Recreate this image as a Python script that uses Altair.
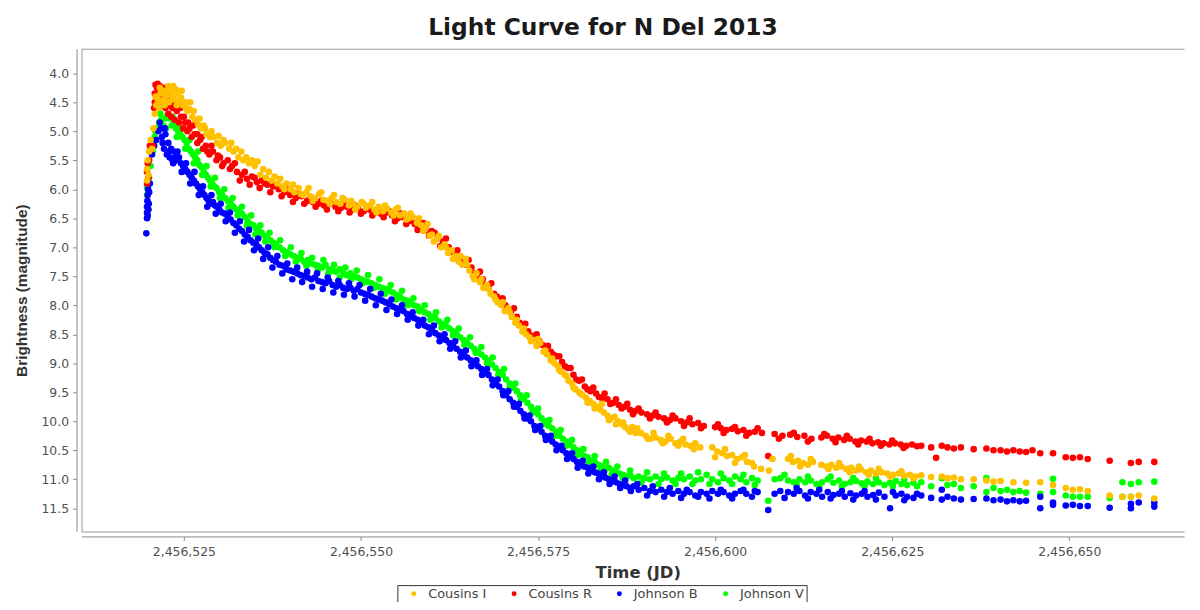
import altair as alt
import pandas as pd

JD0 = 2456500  # days below are JD - 2456500

SERIES = ["Cousins I", "Cousins R", "Johnson B", "Johnson V"]
COLORS = ["#FFC000", "#FF0000", "#0000FF", "#00FF00"]
X_TICKS = [2456525, 2456550, 2456575, 2456600, 2456625, 2456650]
Y_TICKS = [4.0, 4.5, 5.0, 5.5, 6.0, 6.5, 7.0, 7.5, 8.0, 8.5, 9.0, 9.5, 10.0, 10.5, 11.0, 11.5]

COUSINS_I = [
    (19.8, 5.85), (19.8, 5.65), (19.9, 5.5), (20.0, 5.75), (20.1, 5.35), (20.3, 5.15), (20.5, 5.3),
    (20.7, 4.95), (20.9, 4.7), (21.1, 4.55), (21.3, 4.45), (21.5, 4.6), (21.7, 4.35), (21.9, 4.5),
    (22.1, 4.3), (22.3, 4.55), (22.5, 4.4), (22.7, 4.3), (22.9, 4.5), (23.1, 4.25), (23.3, 4.35),
    (23.5, 4.22), (23.7, 4.45), (23.9, 4.28), (24.1, 4.35), (24.3, 4.5), (24.6, 4.42), (24.9, 4.55),
    (25.2, 4.5), (25.5, 4.65), (25.8, 4.62), (26.2, 4.75), (26.6, 4.8), (27.0, 4.88), (27.4, 4.95),
    (27.8, 4.9), (28.2, 5.05), (28.7, 5.1), (29.2, 5.1), (29.7, 5.2), (30.2, 5.25), (30.8, 5.2),
    (31.4, 5.3), (32.0, 5.35), (32.7, 5.45), (33.4, 5.5), (34.2, 5.55), (35.0, 5.6), (35.8, 5.75),
    (36.6, 5.8), (37.4, 5.85), (38.2, 5.9), (38.9, 5.95), (39.5, 5.9), (40.1, 6.0), (40.6, 6.05),
    (41.2, 5.98), (41.8, 6.1), (42.3, 6.05), (42.9, 6.12), (43.5, 6.15), (44.1, 6.08), (44.7, 6.18),
    (45.3, 6.2), (45.9, 6.15), (46.5, 6.22), (47.1, 6.25), (47.7, 6.18), (48.3, 6.28), (48.9, 6.25),
    (49.5, 6.3), (50.1, 6.22), (50.7, 6.32), (51.3, 6.28), (51.9, 6.35), (52.5, 6.3), (53.1, 6.38),
    (53.7, 6.33), (54.3, 6.4), (54.9, 6.35), (55.5, 6.45), (56.1, 6.42), (56.7, 6.5), (57.3, 6.48),
    (57.9, 6.58), (58.5, 6.62), (59.1, 6.68), (59.7, 6.8), (60.3, 6.9), (60.8, 6.85), (61.3, 7.0),
    (61.8, 6.95), (62.3, 7.1), (62.8, 7.05), (63.3, 7.15), (63.8, 7.25), (64.3, 7.3), (64.8, 7.2),
    (65.3, 7.4), (65.8, 7.5), (66.3, 7.45), (66.8, 7.6), (67.3, 7.7), (67.8, 7.65), (68.3, 7.8),
    (68.8, 7.85), (69.3, 7.95), (69.8, 8.0), (70.3, 8.1), (70.8, 8.05), (71.3, 8.2), (71.8, 8.3),
    (72.3, 8.35), (72.8, 8.45), (73.3, 8.5), (73.8, 8.55), (74.3, 8.6), (74.8, 8.7), (75.3, 8.65),
    (75.8, 8.8), (76.3, 8.85), (76.8, 8.95), (77.3, 9.0), (77.8, 9.05), (78.3, 9.15), (78.8, 9.2),
    (79.3, 9.3), (79.8, 9.35), (80.3, 9.45), (80.8, 9.5), (81.3, 9.55), (81.8, 9.6), (82.3, 9.65),
    (82.8, 9.7), (83.3, 9.75), (83.8, 9.8), (84.3, 9.85), (84.8, 9.9), (85.3, 9.95), (85.8, 9.92),
    (86.3, 10.0), (86.8, 10.05), (87.3, 10.1), (87.8, 10.15), (88.3, 10.1), (88.8, 10.2), (89.5, 10.2),
    (90.2, 10.25), (90.9, 10.3), (91.6, 10.28), (92.3, 10.32), (93.0, 10.35), (93.7, 10.3), (94.4, 10.38),
    (95.1, 10.35), (95.8, 10.4), (96.5, 10.42), (97.2, 10.38), (97.9, 10.45), (99.6, 10.45), (100.3, 10.52),
    (101.0, 10.55), (101.7, 10.6), (102.4, 10.58), (103.1, 10.65), (103.8, 10.62), (104.5, 10.7),
    (105.2, 10.72), (106.5, 10.82), (107.6, 10.85), (108.1, 10.65), (110.3, 10.65), (111.0, 10.7),
    (111.7, 10.68), (112.4, 10.72), (113.1, 10.75), (113.8, 10.7), (115.0, 10.75), (115.7, 10.78),
    (116.4, 10.75), (117.1, 10.8), (117.8, 10.78), (118.5, 10.82), (119.2, 10.8), (119.9, 10.85),
    (120.6, 10.83), (121.3, 10.88), (122.0, 10.85), (122.7, 10.9), (123.5, 10.88), (124.3, 10.9),
    (125.1, 10.92), (125.9, 10.9), (126.7, 10.94), (127.5, 10.92), (128.3, 10.95), (129.1, 10.93),
    (130.5, 10.96), (132.0, 10.95), (132.8, 10.98), (133.7, 10.97), (134.7, 11.0), (136.5, 11.0),
    (138.3, 11.02), (139.3, 11.04), (140.3, 11.03), (142.1, 11.05), (143.9, 11.06), (145.9, 11.05),
    (147.7, 11.1), (149.5, 11.15), (150.5, 11.18), (151.5, 11.17), (152.6, 11.2), (155.7, 11.28),
    (157.5, 11.3), (158.7, 11.3), (159.8, 11.28), (162.0, 11.33),
]
COUSINS_I_SCATTER = [
    (21.0, 4.4), (21.6, 4.25), (22.2, 4.45), (22.8, 4.22), (23.4, 4.45), (24.0, 4.55), (24.7, 4.3),
    (25.3, 4.6), (25.9, 4.5), (26.4, 4.65), (27.2, 4.78), (28.0, 4.95), (28.9, 5.0), (29.9, 5.08),
    (30.6, 5.15), (31.7, 5.2), (32.4, 5.3), (33.1, 5.35), (33.8, 5.45), (34.6, 5.5), (35.4, 5.52),
    (36.2, 5.65), (37.0, 5.7), (37.8, 5.78), (38.6, 5.82), (39.2, 6.0), (40.4, 5.92), (41.5, 6.08),
    (42.6, 5.98), (43.2, 6.2), (44.4, 6.05), (45.6, 6.25), (46.2, 6.1), (47.4, 6.15), (48.6, 6.2),
    (49.2, 6.35), (50.4, 6.25), (51.6, 6.22), (52.2, 6.4), (53.4, 6.28), (54.6, 6.45), (55.2, 6.32),
    (56.4, 6.52), (57.0, 6.42), (58.2, 6.5), (58.8, 6.72), (59.4, 6.6), (60.0, 6.78), (61.0, 6.8),
    (62.0, 7.0), (63.0, 7.2), (64.0, 7.15), (65.0, 7.3), (66.0, 7.55), (67.0, 7.55), (68.0, 7.72),
    (69.0, 7.9), (70.0, 7.95), (71.0, 8.12), (72.0, 8.25), (73.0, 8.4), (74.0, 8.62), (75.0, 8.58),
    (76.0, 8.78), (77.0, 8.92), (78.0, 9.12), (79.0, 9.22), (80.0, 9.42), (81.0, 9.52), (82.0, 9.68),
    (83.0, 9.78), (84.0, 9.7), (85.0, 9.98), (86.0, 10.05), (87.0, 10.02), (88.0, 10.18), (89.0, 10.12),
    (90.5, 10.3), (91.3, 10.2), (92.6, 10.38), (93.4, 10.25), (94.8, 10.42), (95.5, 10.3), (97.0, 10.48),
    (100.0, 10.62), (101.4, 10.48), (102.8, 10.72), (104.2, 10.58), (105.5, 10.78), (110.7, 10.6),
    (112.0, 10.78), (113.5, 10.65), (116.0, 10.82), (117.5, 10.72), (119.0, 10.88), (120.3, 10.78),
    (121.7, 10.92), (123.1, 10.82), (124.7, 10.95), (126.3, 10.86), (128.0, 10.98),
]

COUSINS_R = [
    (19.8, 5.9), (19.8, 5.7), (19.9, 5.55), (20.0, 5.8), (20.1, 5.5), (20.2, 5.25), (20.4, 5.3),
    (20.6, 5.25), (20.8, 4.6), (20.9, 4.35), (21.0, 4.2), (21.1, 4.5), (21.2, 4.25), (21.3, 4.18),
    (21.4, 4.4), (21.6, 4.22), (21.8, 4.3), (22.0, 4.5), (22.2, 4.25), (22.4, 4.6), (22.6, 4.45),
    (22.8, 4.7), (23.0, 4.55), (23.2, 4.75), (23.4, 4.6), (23.7, 4.8), (24.0, 4.65), (24.3, 4.85),
    (24.6, 4.75), (24.9, 4.95), (25.2, 4.85), (25.5, 5.0), (25.8, 4.95), (26.1, 5.1), (26.5, 5.05),
    (26.9, 5.2), (27.3, 5.15), (27.7, 5.3), (28.1, 5.25), (28.6, 5.4), (29.1, 5.35), (29.6, 5.5),
    (30.1, 5.45), (30.6, 5.55), (31.2, 5.5), (31.8, 5.6), (32.5, 5.7), (33.2, 5.75), (33.9, 5.82),
    (34.6, 5.78), (35.3, 5.88), (36.0, 5.85), (36.8, 5.92), (37.6, 5.95), (38.4, 6.0), (39.2, 6.05),
    (40.0, 6.1), (40.8, 6.15), (41.6, 6.12), (42.4, 6.2), (43.2, 6.22), (44.0, 6.25), (44.8, 6.28),
    (45.6, 6.25), (46.4, 6.3), (47.2, 6.32), (48.0, 6.3), (48.8, 6.35), (49.6, 6.33), (50.4, 6.38),
    (51.2, 6.35), (52.0, 6.4), (52.8, 6.42), (53.6, 6.4), (54.4, 6.45), (55.2, 6.5), (56.0, 6.48),
    (56.8, 6.55), (57.6, 6.6), (58.4, 6.62), (59.2, 6.7), (60.0, 6.72), (60.8, 6.85), (61.6, 6.9),
    (62.4, 7.0), (63.2, 7.1), (64.0, 7.15), (64.8, 7.3), (65.6, 7.35), (66.4, 7.5), (67.2, 7.55),
    (68.0, 7.7), (68.8, 7.8), (69.6, 7.9), (70.4, 8.0), (71.2, 8.1), (72.0, 8.2), (72.8, 8.35),
    (73.6, 8.45), (74.4, 8.55), (75.2, 8.62), (76.0, 8.72), (76.8, 8.8), (77.6, 8.88), (78.4, 8.98),
    (79.2, 9.08), (80.0, 9.2), (80.8, 9.3), (81.6, 9.4), (82.4, 9.48), (83.2, 9.52), (84.0, 9.6),
    (84.8, 9.62), (85.6, 9.68), (86.4, 9.72), (87.2, 9.75), (88.0, 9.8), (88.8, 9.82), (89.6, 9.85),
    (90.4, 9.88), (91.2, 9.9), (92.0, 9.92), (92.8, 9.95), (93.6, 9.98), (94.4, 9.95), (95.2, 10.0),
    (96.0, 10.02), (96.8, 10.05), (97.6, 10.03), (98.4, 10.08), (100.0, 10.1), (100.8, 10.12),
    (101.6, 10.15), (102.4, 10.13), (103.2, 10.17), (104.0, 10.15), (104.8, 10.2), (105.6, 10.18),
    (106.6, 10.2), (107.5, 10.6), (108.4, 10.22), (109.5, 10.25), (110.6, 10.23), (111.6, 10.27),
    (112.6, 10.25), (113.6, 10.3), (115.0, 10.28), (115.8, 10.25), (116.6, 10.3), (117.4, 10.28),
    (118.2, 10.32), (119.0, 10.3), (119.8, 10.35), (120.6, 10.33), (121.4, 10.35), (122.2, 10.38),
    (123.0, 10.36), (123.8, 10.38), (124.6, 10.4), (125.4, 10.38), (126.2, 10.4), (127.0, 10.42),
    (127.8, 10.4), (128.5, 10.43), (129.1, 10.42), (130.5, 10.45), (131.2, 10.63), (132.0, 10.42),
    (132.8, 10.45), (133.7, 10.47), (134.7, 10.45), (136.5, 10.48), (138.3, 10.47), (139.3, 10.5),
    (140.3, 10.5), (141.2, 10.52), (142.1, 10.5), (143.0, 10.52), (143.9, 10.53), (144.8, 10.5),
    (145.9, 10.55), (147.7, 10.55), (149.5, 10.62), (150.5, 10.63), (151.5, 10.62), (152.6, 10.65),
    (155.7, 10.68), (158.7, 10.72), (159.8, 10.7), (162.0, 10.7),
]
COUSINS_R_SCATTER = [
    (20.9, 4.5), (21.5, 4.35), (22.1, 4.4), (22.7, 4.35), (23.3, 4.5), (23.9, 4.55), (24.5, 4.6),
    (25.0, 4.75), (25.6, 4.85), (26.3, 4.9), (26.9, 5.05), (27.5, 5.1), (28.3, 5.35), (28.9, 5.25),
    (29.8, 5.42), (30.4, 5.6), (31.5, 5.65), (32.2, 5.55), (32.9, 5.85), (33.6, 5.7), (34.3, 5.92),
    (35.0, 5.8), (35.7, 5.98), (36.4, 5.9), (37.2, 6.05), (38.0, 5.92), (38.8, 6.12), (39.6, 6.0),
    (40.4, 6.22), (41.2, 6.08), (42.0, 6.25), (42.8, 6.15), (43.6, 6.3), (44.4, 6.2), (45.2, 6.35),
    (46.0, 6.22), (46.8, 6.38), (47.6, 6.25), (48.4, 6.4), (49.2, 6.28), (50.0, 6.42), (50.8, 6.3),
    (51.6, 6.45), (52.4, 6.35), (53.2, 6.48), (54.0, 6.38), (54.8, 6.55), (55.6, 6.42), (56.4, 6.6),
    (57.2, 6.52), (58.0, 6.7), (58.8, 6.58), (59.6, 6.8), (60.4, 6.75), (61.2, 6.98), (62.0, 6.85),
    (62.8, 7.08), (63.6, 7.05), (64.4, 7.25), (65.2, 7.22), (66.0, 7.45), (66.8, 7.42), (67.6, 7.65),
    (68.4, 7.62), (69.2, 7.85), (70.0, 7.88), (70.8, 8.08), (71.6, 8.05), (72.4, 8.3), (73.2, 8.32),
    (74.0, 8.52), (74.8, 8.5), (75.6, 8.68), (76.4, 8.7), (77.2, 8.85), (78.0, 8.88), (78.8, 9.05),
    (79.6, 9.08), (80.4, 9.28), (81.2, 9.28), (82.0, 9.45), (82.8, 9.42), (83.6, 9.58), (84.4, 9.52),
    (85.2, 9.7), (86.0, 9.62), (86.8, 9.78), (87.6, 9.7), (88.4, 9.88), (89.2, 9.78), (90.8, 9.95),
    (91.6, 9.85), (93.2, 10.02), (94.0, 9.9), (95.6, 10.08), (96.4, 9.95), (98.0, 10.12), (100.4, 10.05),
    (101.2, 10.2), (102.8, 10.1), (104.4, 10.25), (106.0, 10.12), (109.0, 10.3), (111.1, 10.2),
    (113.1, 10.35), (115.4, 10.22), (117.0, 10.36), (118.6, 10.25), (120.2, 10.4), (121.8, 10.3),
    (123.4, 10.42), (125.0, 10.33), (126.6, 10.46),
]

JOHNSON_B = [
    (19.7, 6.76), (19.8, 6.5), (19.8, 6.4), (19.8, 6.3), (19.85, 6.2), (19.9, 6.1), (19.9, 6.45),
    (19.95, 6.0), (20.0, 6.35), (20.05, 6.25), (20.1, 6.05), (20.2, 5.9), (20.5, 5.4), (20.8, 5.25),
    (21.1, 5.15), (21.4, 5.0), (21.6, 4.85), (21.8, 4.95), (22.0, 5.2), (22.2, 5.3), (22.4, 5.05),
    (22.6, 5.4), (22.8, 5.2), (23.0, 5.45), (23.2, 5.3), (23.4, 5.5), (23.6, 5.35), (23.8, 5.45),
    (24.0, 5.5), (24.3, 5.45), (24.6, 5.55), (24.9, 5.6), (25.2, 5.65), (25.5, 5.7), (25.8, 5.75),
    (26.1, 5.8), (26.4, 5.85), (26.7, 5.9), (27.0, 5.95), (27.3, 6.0), (27.6, 6.05), (27.9, 6.1),
    (28.2, 6.15), (28.5, 6.2), (28.8, 6.25), (29.1, 6.22), (29.4, 6.28), (29.7, 6.3), (30.0, 6.35),
    (30.4, 6.4), (30.8, 6.42), (31.2, 6.48), (31.6, 6.52), (32.0, 6.58), (32.4, 6.62), (32.8, 6.68),
    (33.2, 6.72), (33.6, 6.78), (34.0, 6.82), (34.4, 6.88), (34.8, 6.92), (35.2, 6.95), (35.6, 7.0),
    (36.0, 7.05), (36.4, 7.1), (36.8, 7.12), (37.2, 7.18), (37.6, 7.22), (38.0, 7.25), (38.5, 7.3),
    (39.0, 7.32), (39.5, 7.38), (40.0, 7.4), (40.5, 7.42), (41.0, 7.45), (41.5, 7.48), (42.0, 7.5),
    (42.5, 7.52), (43.0, 7.55), (43.5, 7.52), (44.0, 7.58), (44.5, 7.6), (45.0, 7.62), (45.5, 7.58),
    (46.0, 7.65), (46.5, 7.68), (47.0, 7.65), (47.5, 7.7), (48.0, 7.72), (48.5, 7.7), (49.0, 7.75),
    (49.5, 7.72), (50.0, 7.78), (50.5, 7.8), (51.0, 7.82), (51.5, 7.85), (52.0, 7.88), (52.5, 7.9),
    (53.0, 7.92), (53.5, 7.95), (54.0, 7.98), (54.5, 8.02), (55.0, 8.05), (55.5, 8.08), (56.0, 8.1),
    (56.5, 8.15), (57.0, 8.18), (57.5, 8.22), (58.0, 8.25), (58.5, 8.3), (59.0, 8.35), (59.5, 8.38),
    (60.0, 8.42), (60.5, 8.48), (61.0, 8.52), (61.5, 8.58), (62.0, 8.6), (62.5, 8.65), (63.0, 8.7),
    (63.5, 8.75), (64.0, 8.8), (64.5, 8.85), (65.0, 8.9), (65.5, 8.95), (66.0, 9.0), (66.5, 9.05),
    (67.0, 9.1), (67.5, 9.15), (68.0, 9.2), (68.5, 9.28), (69.0, 9.35), (69.5, 9.4), (70.0, 9.48),
    (70.5, 9.55), (71.0, 9.62), (71.5, 9.68), (72.0, 9.75), (72.5, 9.82), (73.0, 9.88), (73.5, 9.95),
    (74.0, 10.0), (74.5, 10.08), (75.0, 10.12), (75.5, 10.18), (76.0, 10.25), (76.5, 10.3), (77.0, 10.35),
    (77.5, 10.4), (78.0, 10.45), (78.5, 10.5), (79.0, 10.55), (79.5, 10.6), (80.0, 10.65), (80.5, 10.7),
    (81.0, 10.72), (81.5, 10.78), (82.0, 10.8), (82.5, 10.85), (83.0, 10.88), (83.5, 10.9), (84.0, 10.95),
    (84.5, 10.97), (85.0, 11.0), (85.5, 11.02), (86.0, 11.05), (86.5, 11.08), (87.0, 11.1), (87.5, 11.12),
    (88.0, 11.15), (88.5, 11.12), (89.2, 11.18), (90.0, 11.15), (90.8, 11.2), (91.6, 11.22), (92.4, 11.18),
    (93.2, 11.22), (94.0, 11.25), (94.8, 11.2), (95.6, 11.25), (96.4, 11.22), (97.2, 11.28), (98.0, 11.22),
    (98.8, 11.25), (99.6, 11.2), (100.4, 11.25), (101.2, 11.22), (102.0, 11.28), (102.8, 11.25),
    (103.6, 11.2), (104.4, 11.25), (105.2, 11.3), (106.0, 11.22), (107.5, 11.53), (108.4, 11.25),
    (109.2, 11.2), (110.3, 11.22), (111.1, 11.25), (111.9, 11.2), (112.7, 11.28), (113.5, 11.22),
    (114.3, 11.25), (115.1, 11.3), (115.9, 11.22), (116.7, 11.27), (117.5, 11.25), (118.3, 11.3),
    (119.1, 11.24), (119.9, 11.28), (120.7, 11.25), (121.5, 11.3), (122.3, 11.27), (123.1, 11.23),
    (123.9, 11.3), (124.7, 11.5), (125.5, 11.28), (126.3, 11.25), (127.1, 11.3), (128.0, 11.32),
    (129.1, 11.28), (130.5, 11.32), (132.0, 11.35), (132.0, 11.18), (132.8, 11.3), (133.7, 11.33),
    (134.7, 11.35), (136.5, 11.34), (138.3, 11.33), (139.3, 11.36), (140.3, 11.35), (141.2, 11.38),
    (142.1, 11.36), (143.0, 11.38), (143.9, 11.37), (145.9, 11.3), (145.9, 11.5), (147.7, 11.4),
    (147.7, 11.44), (149.5, 11.45), (150.5, 11.44), (151.5, 11.46), (152.6, 11.46), (155.7, 11.49),
    (158.7, 11.5), (158.7, 11.42), (159.8, 11.4), (162.0, 11.4), (162.0, 11.47),
]
JOHNSON_B_SCATTER = [
    (21.9, 5.1), (22.3, 4.95), (22.9, 5.35), (23.5, 5.55), (24.1, 5.35), (24.7, 5.7), (25.3, 5.55),
    (25.9, 5.9), (26.5, 5.7), (27.1, 6.1), (27.7, 5.95), (28.3, 6.3), (28.9, 6.1), (29.5, 6.42),
    (30.2, 6.25), (30.9, 6.55), (31.5, 6.4), (32.2, 6.75), (32.9, 6.55), (33.5, 6.9), (34.2, 6.7),
    (34.9, 7.05), (35.5, 6.85), (36.2, 7.2), (36.9, 7.0), (37.5, 7.35), (38.2, 7.15), (38.9, 7.45),
    (39.6, 7.28), (40.3, 7.55), (41.0, 7.35), (41.7, 7.6), (42.4, 7.42), (43.1, 7.68), (43.8, 7.45),
    (44.6, 7.72), (45.3, 7.52), (46.1, 7.78), (46.8, 7.58), (47.6, 7.82), (48.3, 7.62), (49.1, 7.85),
    (49.8, 7.65), (50.6, 7.92), (51.3, 7.72), (52.1, 8.0), (52.8, 7.8), (53.6, 8.08), (54.3, 7.9),
    (55.1, 8.15), (55.8, 8.0), (56.6, 8.25), (57.3, 8.12), (58.1, 8.35), (58.8, 8.25), (59.6, 8.5),
    (60.3, 8.35), (61.1, 8.62), (61.8, 8.5), (62.6, 8.75), (63.3, 8.62), (64.1, 8.9), (64.8, 8.78),
    (65.6, 9.05), (66.3, 8.95), (67.1, 9.2), (67.8, 9.1), (68.6, 9.38), (69.3, 9.28), (70.1, 9.55),
    (70.8, 9.48), (71.6, 9.75), (72.3, 9.7), (73.1, 9.95), (73.8, 9.9), (74.6, 10.15), (75.3, 10.08),
    (76.1, 10.32), (76.8, 10.25), (77.6, 10.5), (78.3, 10.42), (79.1, 10.65), (79.8, 10.55), (80.6, 10.8),
    (81.3, 10.68), (82.1, 10.9), (82.8, 10.78), (83.6, 11.0), (84.3, 10.88), (85.1, 11.08), (85.8, 10.95),
    (86.6, 11.15), (87.3, 11.02), (88.1, 11.2), (89.0, 11.08), (90.4, 11.28), (91.2, 11.12), (92.8, 11.3),
    (93.6, 11.15), (95.2, 11.32), (96.0, 11.18), (97.6, 11.3), (99.2, 11.33), (100.8, 11.18),
    (102.4, 11.33), (104.0, 11.18), (105.6, 11.2), (109.8, 11.32), (111.5, 11.15), (113.1, 11.33),
    (114.7, 11.18), (116.3, 11.33), (117.9, 11.2), (119.5, 11.35), (121.1, 11.2), (122.7, 11.35),
    (125.1, 11.22), (126.7, 11.36), (128.5, 11.25),
]

JOHNSON_V = [
    (19.8, 6.1), (19.8, 5.95), (19.9, 6.0), (20.0, 5.9), (20.1, 5.8), (20.3, 5.6), (20.6, 5.35),
    (20.9, 5.1), (21.2, 4.95), (21.5, 4.85), (21.8, 4.8), (22.1, 4.9), (22.4, 4.78), (22.7, 4.72),
    (23.0, 4.78), (23.3, 4.9), (23.6, 4.85), (23.9, 4.95), (24.2, 5.0), (24.5, 5.05), (24.8, 5.1),
    (25.1, 5.15), (25.4, 5.2), (25.7, 5.3), (26.0, 5.35), (26.3, 5.4), (26.6, 5.45), (26.9, 5.5),
    (27.2, 5.58), (27.5, 5.62), (27.8, 5.7), (28.1, 5.75), (28.4, 5.8), (28.7, 5.85), (29.0, 5.9),
    (29.3, 5.95), (29.6, 5.98), (30.0, 6.05), (30.4, 6.1), (30.8, 6.15), (31.2, 6.2), (31.6, 6.25),
    (32.0, 6.3), (32.4, 6.35), (32.8, 6.38), (33.2, 6.42), (33.6, 6.48), (34.0, 6.55), (34.4, 6.6),
    (34.8, 6.62), (35.2, 6.68), (35.6, 6.72), (36.0, 6.75), (36.4, 6.8), (36.8, 6.85), (37.2, 6.88),
    (37.6, 6.92), (38.0, 6.95), (38.5, 7.0), (39.0, 7.05), (39.5, 7.08), (40.0, 7.12), (40.5, 7.15),
    (41.0, 7.18), (41.5, 7.2), (42.0, 7.25), (42.5, 7.22), (43.0, 7.28), (43.5, 7.3), (44.0, 7.32),
    (44.5, 7.35), (45.0, 7.3), (45.5, 7.38), (46.0, 7.4), (46.5, 7.42), (47.0, 7.38), (47.5, 7.45),
    (48.0, 7.48), (48.5, 7.45), (49.0, 7.5), (49.5, 7.52), (50.0, 7.55), (50.5, 7.58), (51.0, 7.6),
    (51.5, 7.62), (52.0, 7.65), (52.5, 7.68), (53.0, 7.7), (53.5, 7.72), (54.0, 7.75), (54.5, 7.78),
    (55.0, 7.82), (55.5, 7.85), (56.0, 7.9), (56.5, 7.92), (57.0, 7.95), (57.5, 8.0), (58.0, 8.02),
    (58.5, 8.08), (59.0, 8.12), (59.5, 8.15), (60.0, 8.2), (60.5, 8.22), (61.0, 8.28), (61.5, 8.32),
    (62.0, 8.35), (62.5, 8.4), (63.0, 8.45), (63.5, 8.5), (64.0, 8.55), (64.5, 8.6), (65.0, 8.65),
    (65.5, 8.7), (66.0, 8.75), (66.5, 8.8), (67.0, 8.85), (67.5, 8.9), (68.0, 8.95), (68.5, 9.02),
    (69.0, 9.08), (69.5, 9.15), (70.0, 9.2), (70.5, 9.28), (71.0, 9.35), (71.5, 9.42), (72.0, 9.48),
    (72.5, 9.55), (73.0, 9.62), (73.5, 9.68), (74.0, 9.75), (74.5, 9.82), (75.0, 9.88), (75.5, 9.95),
    (76.0, 10.0), (76.5, 10.08), (77.0, 10.12), (77.5, 10.18), (78.0, 10.25), (78.5, 10.3), (79.0, 10.35),
    (79.5, 10.4), (80.0, 10.45), (80.5, 10.5), (81.0, 10.55), (81.5, 10.6), (82.0, 10.62), (82.5, 10.68),
    (83.0, 10.7), (83.5, 10.75), (84.0, 10.78), (84.5, 10.82), (85.0, 10.8), (85.5, 10.85), (86.0, 10.88),
    (86.5, 10.9), (87.0, 10.92), (87.5, 10.95), (88.0, 10.93), (88.5, 10.98), (89.2, 10.95), (90.0, 10.98),
    (90.8, 11.0), (91.6, 10.95), (92.4, 11.0), (93.2, 10.97), (94.0, 11.02), (94.8, 10.98), (95.6, 11.0),
    (96.4, 10.95), (97.2, 11.02), (98.0, 11.0), (98.8, 10.92), (99.6, 11.0), (100.4, 11.05), (101.2, 10.98),
    (102.0, 11.02), (102.8, 10.95), (103.6, 11.0), (104.4, 11.05), (105.2, 10.98), (106.0, 11.02),
    (107.5, 11.37), (108.4, 11.0), (109.2, 10.98), (110.3, 11.02), (111.1, 11.05), (111.9, 11.0),
    (112.7, 11.05), (113.5, 11.02), (114.3, 11.08), (115.1, 11.05), (115.9, 11.0), (116.7, 11.06),
    (117.5, 11.02), (118.3, 11.08), (119.1, 11.05), (119.9, 11.03), (120.7, 11.07), (121.5, 11.04),
    (122.3, 11.08), (123.1, 11.05), (123.9, 11.1), (124.7, 11.06), (125.5, 11.03), (126.3, 11.08),
    (127.1, 11.1), (128.0, 11.06), (129.1, 11.05), (130.5, 11.12), (132.0, 10.98), (132.8, 11.1),
    (133.7, 11.08), (134.7, 11.15), (136.5, 11.12), (138.3, 10.98), (138.3, 11.22), (139.3, 11.15),
    (140.3, 11.2), (141.2, 11.18), (142.1, 11.22), (143.0, 11.2), (143.9, 11.23), (145.9, 11.25),
    (147.7, 10.99), (147.7, 11.22), (149.5, 11.28), (150.5, 11.3), (151.5, 11.3), (152.6, 11.3),
    (155.7, 11.32), (157.5, 11.05), (157.5, 11.3), (158.7, 11.08), (158.7, 11.3), (159.8, 11.05),
    (162.0, 11.04),
]
JOHNSON_V_SCATTER = [
    (21.0, 5.0), (21.7, 4.7), (22.5, 4.95), (23.4, 4.75), (24.0, 5.1), (24.6, 4.95), (25.2, 5.3),
    (25.8, 5.15), (26.4, 5.55), (27.0, 5.35), (27.6, 5.75), (28.2, 5.6), (28.8, 5.95), (29.4, 5.8),
    (30.1, 6.15), (30.7, 6.0), (31.3, 6.32), (31.9, 6.15), (32.6, 6.45), (33.2, 6.3), (33.9, 6.62),
    (34.5, 6.45), (35.1, 6.78), (35.8, 6.62), (36.5, 6.9), (37.1, 6.75), (37.8, 7.0), (38.6, 6.88),
    (39.3, 7.15), (40.1, 7.0), (40.8, 7.25), (41.6, 7.1), (42.3, 7.32), (43.1, 7.18), (43.9, 7.4),
    (44.7, 7.22), (45.4, 7.45), (46.2, 7.3), (47.0, 7.52), (47.8, 7.35), (48.6, 7.55), (49.4, 7.4),
    (50.2, 7.62), (51.0, 7.48), (51.8, 7.7), (52.6, 7.55), (53.4, 7.8), (54.2, 7.65), (55.0, 7.9),
    (55.8, 7.75), (56.6, 8.0), (57.4, 7.88), (58.2, 8.1), (59.0, 8.0), (59.8, 8.25), (60.6, 8.12),
    (61.4, 8.38), (62.2, 8.25), (63.0, 8.52), (63.8, 8.4), (64.6, 8.68), (65.4, 8.55), (66.2, 8.82),
    (67.0, 8.72), (67.8, 9.0), (68.6, 8.9), (69.4, 9.2), (70.2, 9.1), (71.0, 9.42), (71.8, 9.35),
    (72.6, 9.62), (73.4, 9.55), (74.2, 9.85), (75.0, 9.78), (75.8, 10.05), (76.6, 9.98), (77.4, 10.25),
    (78.2, 10.15), (79.0, 10.42), (79.8, 10.32), (80.6, 10.58), (81.4, 10.48), (82.2, 10.72), (83.0, 10.6),
    (83.8, 10.85), (84.6, 10.7), (85.4, 10.92), (86.2, 10.78), (87.0, 10.98), (88.0, 10.85), (89.6, 11.05),
    (90.4, 10.88), (92.0, 11.08), (92.8, 10.9), (94.4, 11.08), (95.2, 10.9), (96.8, 11.08), (97.6, 10.88),
    (99.2, 11.08), (100.8, 10.9), (102.4, 11.08), (104.0, 10.92), (105.6, 11.1), (109.8, 10.92),
    (111.5, 11.1), (113.1, 10.95), (114.7, 11.12), (116.3, 10.95), (117.9, 11.12), (119.5, 10.98),
    (121.1, 11.12), (122.7, 10.98), (125.1, 11.12), (126.7, 11.0), (128.5, 11.12),
]

# draw order: green first, orange last (as in the reference)
DRAW = [
    ("Johnson V", JOHNSON_V + JOHNSON_V_SCATTER),
    ("Johnson B", JOHNSON_B + JOHNSON_B_SCATTER),
    ("Cousins R", COUSINS_R + COUSINS_R_SCATTER),
    ("Cousins I", COUSINS_I + COUSINS_I_SCATTER),
]
rows = []
for z, (name, pts) in enumerate(DRAW):
    for t, m in pts:
        rows.append({"jd": JD0 + t, "mag": m, "band": name, "z": z})
df = pd.DataFrame(rows)

x_scale = alt.Scale(domain=[JD0 + 10.55, JD0 + 166.2], nice=False, zero=False)
y_scale = alt.Scale(domain=[3.577, 11.899], reverse=True, nice=False, zero=False)

FRAME = "#9a9a9a"
AXIS = "#8a8a8a"

base = alt.Chart(df)

points = base.mark_circle(size=44, opacity=1).encode(
    x=alt.X("jd:Q", scale=x_scale, title="Time (JD)",
            axis=alt.Axis(values=X_TICKS, format=",d", orient="bottom", offset=5,
                          domainColor=AXIS, tickColor=AXIS, tickSize=4, labelPadding=5,
                          labelFont="DejaVu Sans", labelFontSize=12.5, labelColor="#505050",
                          titleFont="DejaVu Sans", titleFontSize=16.5, titleFontWeight="bold",
                          titleColor="#333333", titlePadding=7, titleX=560, grid=False)),
    y=alt.Y("mag:Q", scale=y_scale, title="Brightness (magnitude)",
            axis=alt.Axis(values=Y_TICKS, format=".1f", orient="left", offset=5,
                          domainColor=AXIS, tickColor=AXIS, tickSize=4, labelPadding=4,
                          labelFont="DejaVu Sans", labelFontSize=12.5, labelColor="#505050",
                          titleFont="Liberation Sans", titleFontSize=15.5, titleFontWeight="bold",
                          titleColor="#333333", titlePadding=12, grid=False)),
    color=alt.Color("band:N", scale=alt.Scale(domain=SERIES, range=COLORS),
                    legend=alt.Legend(orient="none", legendX=318, legendY=540, direction="horizontal",
                                      columns=4, title=None, labelFont="DejaVu Sans", labelFontSize=13,
                                      labelColor="#444444", symbolType="circle", symbolSize=25,
                                      symbolStrokeWidth=0, strokeColor="#333333", fillColor="white",
                                      padding=2, columnPadding=13, labelOffset=8, symbolOffset=8)),
    order=alt.Order("z:Q"),
)

frame_top_left = base.mark_circle(opacity=0).encode(
    x=alt.X("jd:Q", scale=x_scale, title="",
            axis=alt.Axis(orient="top", labels=False, ticks=False, domainColor=FRAME, offset=0, grid=False)),
    y=alt.Y("mag:Q", scale=y_scale, title="",
            axis=alt.Axis(orient="left", labels=False, ticks=False, domainColor=FRAME, offset=0, grid=False)),
)

frame_bottom = base.mark_circle(opacity=0).encode(
    x=alt.X("jd:Q", scale=x_scale, title="",
            axis=alt.Axis(orient="bottom", labels=False, ticks=False, domainColor=FRAME, offset=0, grid=False)),
    y=alt.Y("mag:Q", scale=y_scale, axis=None),
)

chart = alt.layer(frame_top_left, frame_bottom, points).resolve_axis(
    x="independent", y="independent"
).properties(
    width=1110,
    height=486,
    autosize=alt.AutoSizeParams(type="none"),
    padding={"left": 74, "top": 39, "right": 8, "bottom": 69},
    title=alt.TitleParams(text="Light Curve for N Del 2013", font="DejaVu Sans", fontSize=23.5,
                          fontWeight="bold", color="#1a1a1a", anchor="middle", offset=9, dx=-30),
    background="white",
).configure_view(stroke="transparent")

chart.save("out.html", embed_options={"renderer": "svg", "actions": False})
